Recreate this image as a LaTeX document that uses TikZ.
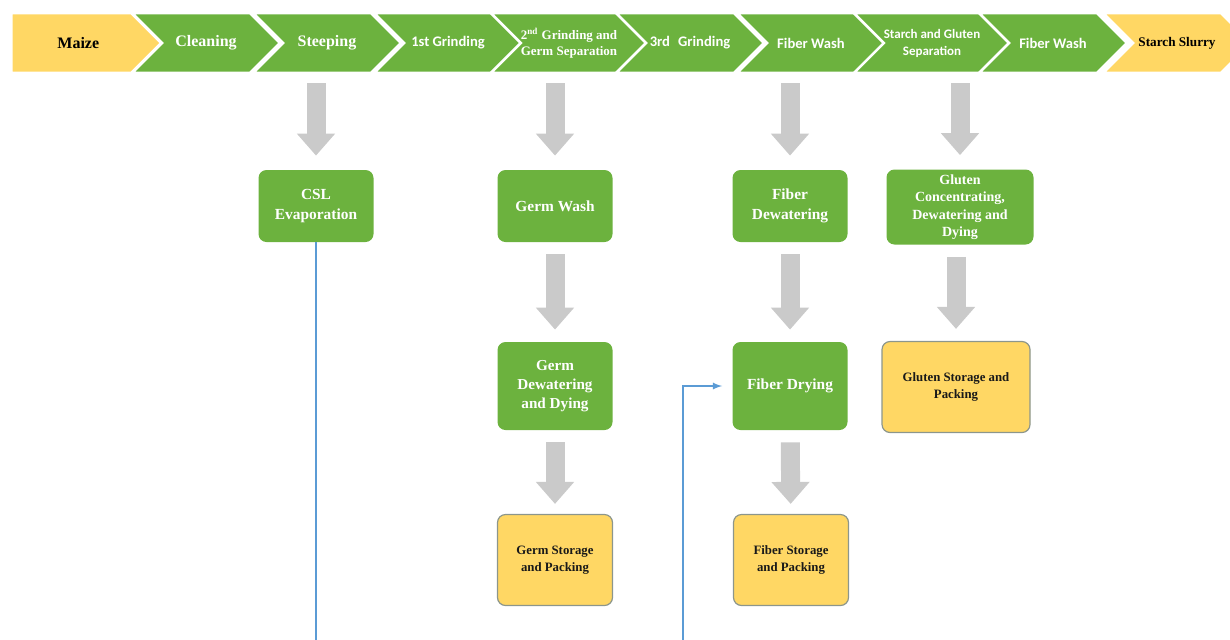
\documentclass[tikz,border=0pt]{standalone}
\usepackage{fontspec}
\setmainfont{Liberation Serif}
\newfontfamily\calibri{Carlito}
\usetikzlibrary{shapes.symbols,arrows.meta}

\definecolor{leafgreen}{RGB}{108,178,62}
\definecolor{corn}{RGB}{255,215,100}
\definecolor{rim}{RGB}{140,150,140}
\definecolor{chute}{RGB}{202,202,202}
\definecolor{pipe}{RGB}{91,155,213}

\tikzset{
        stage/.style={shape=signal, signal to=east, signal from=west, draw=white, line width=1.3pt,
                fill=leafgreen, text=white, minimum width=74pt, minimum height=30pt, inner sep=0pt,
                align=center, font=\bfseries\fontsize{8}{9}\selectfont},
        sansstage/.style={stage, font=\calibri\bfseries\fontsize{7.3}{8}\selectfont},
        procbox/.style={rectangle, rounded corners=4pt, fill=leafgreen, text=white, align=center,
                inner sep=1pt, minimum width=57.5pt, minimum height=36pt,
                font=\bfseries\fontsize{7.7}{10}\selectfont},
        storebox/.style={procbox, fill=corn, draw=rim, line width=0.6pt, text=black!90,
                minimum height=45.5pt, font=\bfseries\fontsize{6.4}{8.5}\selectfont},
        feed/.style={draw=chute, line width=9.5pt, -{Triangle[width=18.5pt,length=11pt]},
                shorten <=6pt, shorten >=6pt},
        recycle/.style={draw=pipe, line width=0.6pt, ->, >=latex, shorten >=5pt}
}

\begin{document}
\begin{tikzpicture}[x=0.5pt, y=-0.5pt]
        \useasboundingbox (0,0) rectangle (1230,639);

        % main line along the top
        \node[stage, signal from=nowhere, fill=corn, text=black, minimum width=75pt, anchor=west] (1) at (10,43) {\hspace*{7pt}Maize};
        \node[stage] (2) at (206,43) {Cleaning};
        \node[stage] (3) at (327,43) {Steeping};
        \node[sansstage] (4) at (448,43) {1st Grinding};
        \node[stage, font=\bfseries\fontsize{6.5}{8}\selectfont] (5) at (569,43) {2\textsuperscript{nd} Grinding and\\Germ Separation};
        \node[sansstage] (6) at (690,43) {3rd\,\, Grinding};
        \node[sansstage] (7) at (811,43) {Fiber Wash};
        \node[sansstage, font=\calibri\bfseries\fontsize{6.5}{8.5}\selectfont] (8) at (932,43) {Starch and Gluten\\Separation};
        \node[sansstage] (9) at (1053,43) {Fiber Wash};
        \node[stage, fill=corn, text=black, font=\bfseries\fontsize{6.6}{8}\selectfont] (10) at (1177,43) {Starch Slurry};

        % side streams
        \node[procbox] (11) at (316,206) {CSL\\Evaporation};
        \node[procbox] (12) at (555,206) {Germ Wash};
        \node[procbox] (13) at (790,206) {Fiber\\Dewatering};
        \node[procbox, minimum width=73.5pt, minimum height=37.5pt, font=\bfseries\fontsize{7}{8.7}\selectfont] (14) at (960,207) {Gluten\\Concentrating,\\Dewatering and\\Dying};
        \node[procbox, minimum height=44pt, font=\bfseries\fontsize{7.6}{9.5}\selectfont] (15) at (555,386) {Germ\\Dewatering\\and Dying};
        \node[procbox, minimum height=44pt] (16) at (790,386) {Fiber Drying};
        \node[storebox, minimum width=74pt] (17) at (956,387) {Gluten Storage and\\Packing};
        \node[storebox] (18) at (555,560) {Germ Storage\\and Packing};
        \node[storebox] (19) at (791,560) {Fiber Storage\\and Packing};

        \draw[feed, shorten <=4.5pt, shorten >=7pt] (11 |- 3.south) -- (11.north);
        \draw[feed, shorten <=4.5pt, shorten >=7pt] (12 |- 5.south) -- (12.north);
        \draw[feed, shorten <=4.5pt, shorten >=7pt] (13 |- 7.south) -- (13.north);
        \draw[feed, shorten <=4.5pt, shorten >=7pt] (14 |- 8.south) -- (14.north);
        \draw[feed] (12) -- (15);
        \draw[feed] (13) -- (16);
        \draw[feed] (14.south -| 17) -- (17.north);
        \draw[feed, shorten >=5pt] (15) -- (18);
        \draw[feed, shorten >=5pt] (16) -- (19);

        % steep liquor line runs below the page
        \coordinate (20) at (683,665);
        \draw[recycle] (11.south) |- (20) |- (16.west);
\end{tikzpicture}
\end{document}
